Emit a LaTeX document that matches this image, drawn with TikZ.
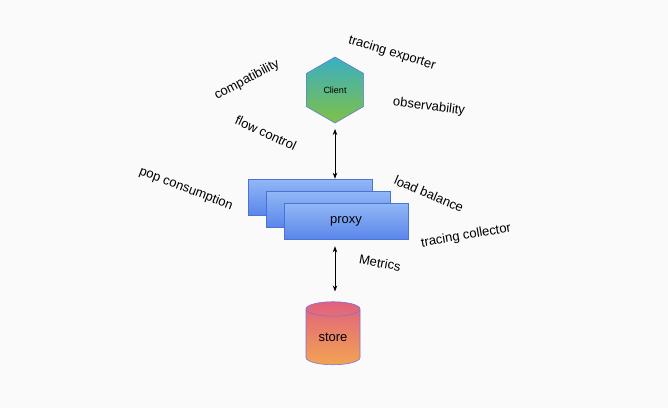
\documentclass[tikz,border=0pt]{standalone}
\usepackage{fontspec}
\setmainfont{Liberation Sans}
\usetikzlibrary{positioning,arrows.meta,shapes.geometric}
\definecolor{canvas}{HTML}{FAFAFA}
\definecolor{hextop}{HTML}{3AAFC2}
\definecolor{hexbot}{HTML}{80C046}
\definecolor{hexline}{HTML}{5A7FD0}
\definecolor{boxtop}{HTML}{92B8F6}
\definecolor{boxbot}{HTML}{5A86EA}
\definecolor{boxline}{HTML}{4B73D6}
\definecolor{dbtop}{HTML}{E0607E}
\definecolor{dbbot}{HTML}{F2A452}
\definecolor{dbline}{HTML}{7F6FD8}

\tikzset{
  tag/.style={font=\fontsize{13}{15}\selectfont, inner sep=0pt},
  proxybox/.style={draw=boxline, line width=0.6pt, top color=boxtop, bottom color=boxbot,
    minimum width=124pt, minimum height=36pt, inner sep=0pt},
  link/.style={{Stealth[length=6pt,width=4.5pt]}-{Stealth[length=6pt,width=4.5pt]}, line width=0.7pt}
}

\begin{document}
\begin{tikzpicture}[x=1pt,y=1pt]
\fill[canvas] (0,0) rectangle (668,408);

% client
\node[regular polygon, regular polygon sides=6, shape border rotate=30, minimum size=66pt,
  inner sep=0pt, outer sep=0pt, draw=hexline, line width=0.6pt, top color=hextop, bottom color=hexbot,
  font=\fontsize{9}{10}\selectfont] (client) at (335,318) {Client};

% proxies, stacked
\node[proxybox] (back) at (310,211) {};
\node[proxybox] (mid) at ([shift={(18,-12)}]back.center) {};
\node[proxybox, font=\fontsize{13}{15}\selectfont] (proxy) at ([shift={(18,-12)}]mid.center) {proxy};

% store
\node[cylinder, shape border rotate=90, aspect=0.5, minimum width=54pt, minimum height=63pt,
  inner sep=0pt, draw=dbline, line width=0.6pt, top color=dbtop, bottom color=dbbot,
  font=\fontsize{13}{15}\selectfont] (store) at (333,71) {store};

\draw[link, shorten <=6pt] (client.south) -- (client.south |- back.north);
\draw[link, shorten <=7pt, shorten >=10pt] (proxy.south -| client.south) -- (store.north -| client.south);

% labels
\node[tag, rotate=-17] (exporter) at (392,355) {tracing exporter};
\node[tag, rotate=28] (compat) at (247,328) {compatibility};
\node[tag, rotate=-7] (observ) at (429,301) {observability};
\node[tag, rotate=-25] (flow) at (266,275) {flow control};
\node[tag, rotate=-21] (pop) at (186,219) {pop consumption};
\node[tag, rotate=-23] (balance) at (429,214) {load balance};
\node[tag, rotate=10] (collector) at (466,172) {tracing collector};
\node[tag, rotate=-10] (metrics) at (380,145) {Metrics};
\end{tikzpicture}
\end{document}
